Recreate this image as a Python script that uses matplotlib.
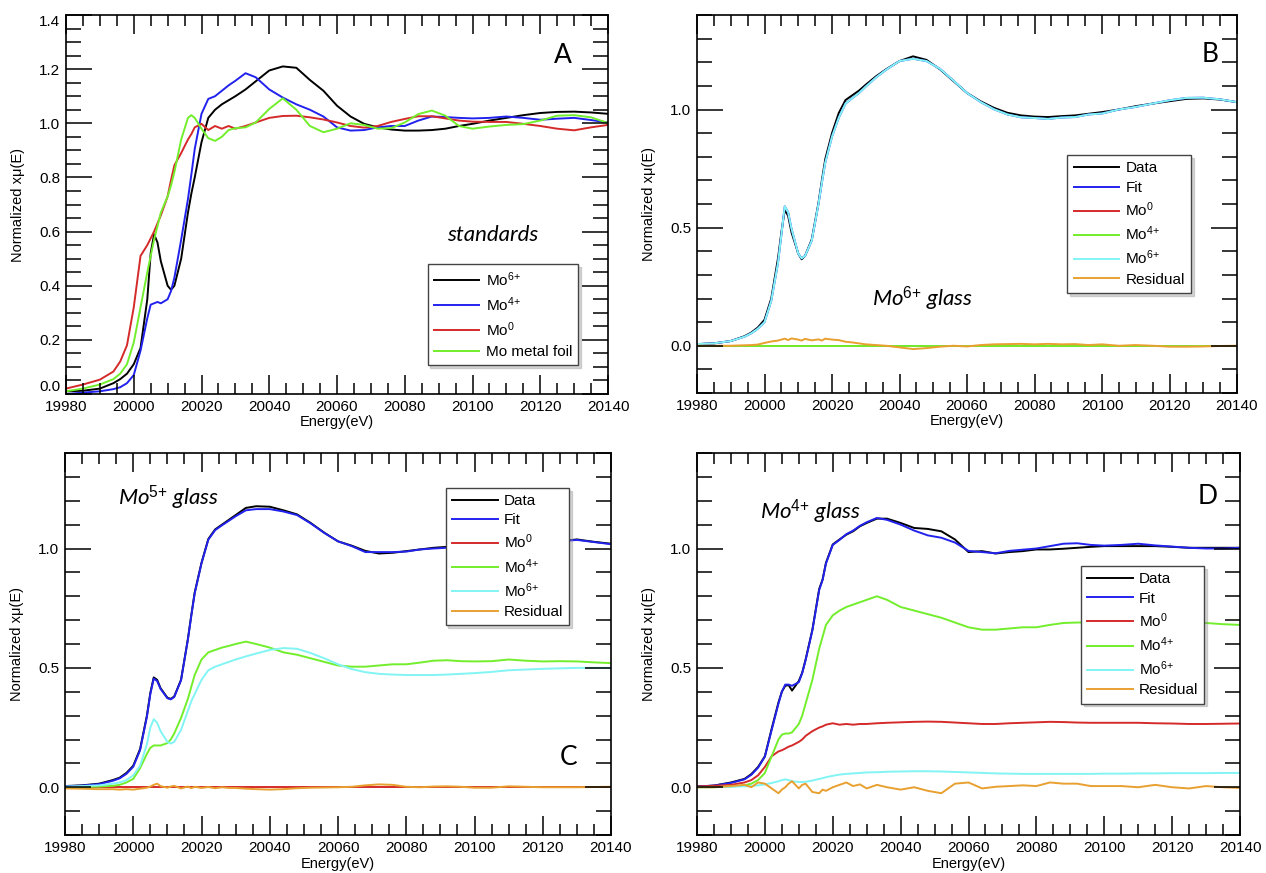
import matplotlib
matplotlib.use('Agg')
import matplotlib.pyplot as plt
from matplotlib.ticker import MultipleLocator, FormatStrFormatter

plt.rcParams['font.family'] = ['Liberation Sans', 'DejaVu Sans']
plt.rcParams['mathtext.fontset'] = 'custom'
plt.rcParams['mathtext.rm'] = 'Liberation Sans'
plt.rcParams['mathtext.it'] = 'Lato:italic'

# ---------------- data ----------------
E = [19980, 19985, 19990, 19994, 19996, 19998,
     20000, 20002, 20004, 20005, 20006, 20007, 20008,
     20010, 20011, 20012, 20014, 20016, 20017, 20018,
     20020, 20022, 20024, 20026, 20028, 20030, 20033, 20036,
     20040, 20044, 20048, 20052, 20056,
     20060, 20064, 20068, 20072, 20076,
     20080, 20084, 20088, 20092, 20096,
     20100, 20105, 20110, 20115, 20120, 20125, 20130, 20135, 20140]

# Panel A: standards
A_mo6 = [0.010, 0.012, 0.020, 0.040, 0.055, 0.075,
         0.110, 0.170, 0.350, 0.520, 0.590, 0.560, 0.490,
         0.400, 0.385, 0.400, 0.500, 0.670, 0.740, 0.800,
         0.930, 1.020, 1.050, 1.070, 1.085, 1.100, 1.125, 1.155,
         1.195, 1.210, 1.205, 1.160, 1.120,
         1.065, 1.025, 0.998, 0.985, 0.977,
         0.973, 0.973, 0.975, 0.980, 0.990,
         0.998, 1.010, 1.020, 1.030, 1.038, 1.042, 1.043, 1.040, 1.035]
A_mo4 = [0.000, 0.005, 0.010, 0.018, 0.025, 0.040,
         0.070, 0.160, 0.280, 0.330, 0.335, 0.340, 0.335,
         0.350, 0.380, 0.430, 0.570, 0.720, 0.810, 0.905,
         1.035, 1.090, 1.100, 1.120, 1.140, 1.157, 1.185, 1.170,
         1.125, 1.095, 1.070, 1.050, 1.025,
         0.985, 0.973, 0.975, 0.985, 0.990,
         0.990, 1.010, 1.025, 1.023, 1.020,
         1.018, 1.020, 1.025, 1.020, 1.013, 1.017, 1.020, 1.012, 1.003]
A_mo0 = [0.020, 0.035, 0.053, 0.083, 0.120, 0.180,
         0.320, 0.510, 0.550, 0.575, 0.600, 0.630, 0.660,
         0.730, 0.790, 0.845, 0.890, 0.940, 0.960, 0.985,
         0.998, 0.975, 0.990, 0.980, 0.990, 0.980, 0.990, 1.003,
         1.020, 1.027, 1.028, 1.022, 1.014,
         1.003, 0.990, 0.984, 0.990, 1.005,
         1.016, 1.026, 1.026, 1.018, 1.010,
         1.006, 1.005, 1.005, 0.998, 0.990, 0.980, 0.974, 0.985, 0.994]
A_foil = [0.010, 0.020, 0.035, 0.055, 0.075, 0.110,
          0.190, 0.320, 0.450, 0.510, 0.570, 0.620, 0.670,
          0.730, 0.770, 0.820, 0.940, 1.020, 1.030, 1.020,
          0.980, 0.945, 0.935, 0.950, 0.975, 0.982, 0.985, 1.003,
          1.053, 1.092, 1.050, 0.990, 0.967,
          0.980, 1.000, 0.994, 0.980, 0.982,
          1.003, 1.034, 1.047, 1.028, 0.990,
          0.980, 0.988, 0.994, 0.997, 1.010, 1.028, 1.030, 1.022, 1.001]

# Panel B: Mo6+ glass
B_data = [0.007, 0.010, 0.020, 0.040, 0.055, 0.077,
          0.110, 0.200, 0.370, 0.480, 0.575, 0.550, 0.480,
          0.390, 0.366, 0.380, 0.450, 0.605, 0.700, 0.790,
          0.900, 0.985, 1.040, 1.060, 1.080, 1.105, 1.140, 1.170,
          1.205, 1.225, 1.210, 1.170, 1.120,
          1.070, 1.035, 1.007, 0.986, 0.975,
          0.970, 0.968, 0.972, 0.975, 0.982,
          0.989, 1.000, 1.014, 1.025, 1.035, 1.045, 1.047, 1.042, 1.031]
B_fit = [0.007, 0.010, 0.020, 0.038, 0.052, 0.072,
         0.100, 0.190, 0.350, 0.470, 0.590, 0.565, 0.495,
         0.390, 0.370, 0.380, 0.445, 0.600, 0.690, 0.775,
         0.885, 0.965, 1.025, 1.048, 1.070, 1.097, 1.135, 1.168,
         1.205, 1.215, 1.205, 1.172, 1.122,
         1.070, 1.032, 1.001, 0.979, 0.967,
         0.964, 0.960, 0.966, 0.968, 0.979,
         0.983, 1.000, 1.011, 1.025, 1.039, 1.049, 1.050, 1.043, 1.031]
B_mo0 = [0.0] * len(E)
B_mo4 = [0.0] * len(E)
B_mo6 = [0.007, 0.010, 0.020, 0.038, 0.052, 0.072,
         0.100, 0.190, 0.350, 0.470, 0.590, 0.565, 0.495,
         0.390, 0.370, 0.380, 0.445, 0.600, 0.690, 0.775,
         0.885, 0.965, 1.025, 1.048, 1.070, 1.097, 1.135, 1.168,
         1.205, 1.215, 1.205, 1.172, 1.122,
         1.070, 1.032, 1.001, 0.979, 0.967,
         0.964, 0.960, 0.966, 0.968, 0.979,
         0.983, 1.000, 1.011, 1.025, 1.039, 1.049, 1.050, 1.043, 1.031]
B_res = [0.000, 0.000, 0.000, 0.002, 0.003, 0.005,
         0.012, 0.018, 0.022, 0.026, 0.030, 0.024, 0.031,
         0.026, 0.022, 0.029, 0.023, 0.027, 0.022, 0.030,
         0.026, 0.024, 0.017, 0.014, 0.010, 0.006, 0.003, 0.000,
         -0.007, -0.014, -0.010, -0.004, 0.000,
         -0.003, 0.003, 0.006, 0.007, 0.008,
         0.006, 0.008, 0.006, 0.007, 0.003,
         0.006, 0.000, 0.003, 0.000, -0.004, -0.004, -0.003, -0.001, 0.000]

# Panel C: Mo5+ glass
C_data = [0.005, 0.008, 0.015, 0.030, 0.040, 0.060,
          0.090, 0.160, 0.300, 0.395, 0.460, 0.450, 0.415,
          0.375, 0.370, 0.380, 0.450, 0.620, 0.720, 0.815,
          0.940, 1.040, 1.080, 1.100, 1.120, 1.140, 1.170, 1.177,
          1.175, 1.160, 1.143, 1.107, 1.066,
          1.030, 1.012, 0.990, 0.979, 0.982,
          0.989, 0.996, 1.003, 1.007, 1.010,
          1.013, 1.015, 1.021, 1.025, 1.030, 1.030, 1.038, 1.028, 1.020]
C_fit = [0.004, 0.007, 0.013, 0.027, 0.037, 0.056,
         0.086, 0.155, 0.295, 0.390, 0.455, 0.445, 0.412,
         0.373, 0.368, 0.378, 0.448, 0.617, 0.717, 0.812,
         0.938, 1.037, 1.077, 1.097, 1.116, 1.135, 1.160, 1.165,
         1.165, 1.155, 1.140, 1.105, 1.065,
         1.030, 1.010, 0.985, 0.985, 0.985,
         0.987, 0.996, 1.000, 1.003, 1.008,
         1.015, 1.017, 1.017, 1.023, 1.030, 1.030, 1.036, 1.027, 1.018]
C_mo0 = [0.0] * len(E)
C_mo4 = [0.000, 0.001, 0.003, 0.006, 0.010, 0.020,
         0.035, 0.080, 0.140, 0.165, 0.175, 0.175, 0.175,
         0.185, 0.200, 0.225, 0.290, 0.370, 0.420, 0.470,
         0.535, 0.565, 0.575, 0.585, 0.592, 0.600, 0.610, 0.600,
         0.585, 0.565, 0.555, 0.540, 0.525,
         0.510, 0.505, 0.505, 0.510, 0.515,
         0.515, 0.522, 0.530, 0.532, 0.528,
         0.527, 0.528, 0.535, 0.530, 0.527, 0.528, 0.527, 0.523, 0.520]
C_mo6 = [0.003, 0.005, 0.008, 0.015, 0.020, 0.030,
         0.050, 0.090, 0.180, 0.250, 0.285, 0.270, 0.235,
         0.190, 0.183, 0.190, 0.240, 0.320, 0.360, 0.390,
         0.450, 0.490, 0.505, 0.515, 0.525, 0.535, 0.548, 0.560,
         0.575, 0.583, 0.580, 0.562, 0.540,
         0.515, 0.495, 0.482, 0.475, 0.472,
         0.470, 0.470, 0.470, 0.472, 0.475,
         0.478, 0.483, 0.490, 0.493, 0.496, 0.498, 0.500, 0.500, 0.500]
C_res = [-0.005, -0.006, -0.008, -0.008, -0.010, -0.008,
         -0.010, -0.006, -0.002, 0.003, 0.010, 0.015, 0.005,
         -0.002, 0.003, 0.006, -0.005, 0.003, -0.004, 0.002,
         -0.003, 0.001, -0.004, 0.000, -0.003, -0.003, -0.006, -0.008,
         -0.010, -0.008, -0.004, -0.002, -0.001,
         0.000, 0.002, 0.008, 0.012, 0.010,
         0.002, 0.000, 0.003, 0.004, 0.002,
         -0.002, -0.002, 0.004, 0.002, 0.000, 0.000, 0.000, 0.001, 0.002]

# Panel D: Mo4+ glass
D_data = [0.003, 0.007, 0.020, 0.035, 0.055, 0.085,
          0.130, 0.245, 0.355, 0.400, 0.425, 0.428, 0.405,
          0.445, 0.480, 0.535, 0.660, 0.830, 0.870, 0.940,
          1.017, 1.038, 1.058, 1.072, 1.093, 1.107, 1.125, 1.125,
          1.107, 1.086, 1.082, 1.072, 1.038,
          0.985, 0.989, 0.979, 0.985, 0.989,
          0.996, 0.996, 0.999, 1.003, 1.007,
          1.010, 1.010, 1.010, 1.010, 1.007, 1.003, 1.003, 1.003, 1.003]
D_fit = [0.003, 0.007, 0.018, 0.033, 0.052, 0.082,
         0.128, 0.240, 0.350, 0.400, 0.430, 0.430, 0.425,
         0.440, 0.478, 0.532, 0.657, 0.826, 0.868, 0.937,
         1.015, 1.036, 1.060, 1.075, 1.095, 1.110, 1.128, 1.120,
         1.100, 1.075, 1.055, 1.045, 1.025,
         0.990, 0.985, 0.980, 0.990, 0.995,
         1.000, 1.010, 1.020, 1.022, 1.015,
         1.012, 1.015, 1.020, 1.013, 1.008, 1.003, 1.000, 1.000, 1.003]
D_mo0 = [0.003, 0.006, 0.010, 0.020, 0.030, 0.050,
         0.085, 0.130, 0.150, 0.155, 0.162, 0.170, 0.175,
         0.190, 0.200, 0.215, 0.235, 0.250, 0.255, 0.262,
         0.268, 0.262, 0.265, 0.262, 0.265, 0.265, 0.268, 0.270,
         0.272, 0.274, 0.275, 0.274, 0.271,
         0.268, 0.265, 0.265, 0.268, 0.270,
         0.272, 0.274, 0.273, 0.271, 0.270,
         0.270, 0.270, 0.270, 0.268, 0.267, 0.265, 0.265, 0.266, 0.267]
D_mo4 = [0.000, 0.000, 0.003, 0.008, 0.015, 0.030,
         0.060, 0.130, 0.200, 0.220, 0.225, 0.225, 0.230,
         0.265, 0.300, 0.350, 0.450, 0.580, 0.630, 0.680,
         0.720, 0.740, 0.755, 0.765, 0.775, 0.785, 0.800, 0.785,
         0.755, 0.740, 0.725, 0.710, 0.690,
         0.670, 0.660, 0.660, 0.665, 0.670,
         0.670, 0.680, 0.688, 0.690, 0.690,
         0.690, 0.690, 0.695, 0.690, 0.685, 0.688, 0.688, 0.683, 0.680]
D_mo6 = [0.000, 0.001, 0.002, 0.004, 0.005, 0.008,
         0.012, 0.018, 0.025, 0.030, 0.033, 0.030, 0.025,
         0.022, 0.022, 0.023, 0.028, 0.035, 0.038, 0.042,
         0.048, 0.053, 0.056, 0.058, 0.060, 0.062, 0.063, 0.065,
         0.066, 0.067, 0.067, 0.066, 0.064,
         0.062, 0.060, 0.058, 0.057, 0.056,
         0.056, 0.056, 0.056, 0.056, 0.056,
         0.057, 0.057, 0.058, 0.058, 0.059, 0.059, 0.059, 0.060, 0.060]
D_res = [0.000, 0.000, 0.005, 0.010, 0.000, 0.020,
         0.015, -0.005, -0.025, -0.010, 0.000, 0.015, 0.025,
         -0.005, 0.010, 0.015, -0.020, -0.025, -0.010, -0.015,
         0.000, 0.010, 0.020, 0.005, 0.012, -0.005, 0.010, 0.000,
         -0.010, 0.000, -0.015, -0.025, 0.015,
         0.020, -0.005, 0.002, 0.005, 0.008,
         0.005, 0.020, 0.015, 0.015, 0.005,
         0.005, 0.005, 0.000, 0.010, 0.000, -0.005, 0.005, 0.000, -0.003]

# ---------------- style ----------------
C_BLACK = '#000000'
C_BLUE = '#2222ee'
C_RED = '#d42a2a'
C_GREEN = '#72ee2c'
C_CYAN = '#82f4f4'
C_ORANGE = '#e8a030'
LW = 1.4

fig = plt.figure(figsize=(12.66, 8.73), dpi=100)
W, H = 1266.0, 873.0


def make_axes(l, t, r, b):
    return fig.add_axes([l / W, 1 - b / H, (r - l) / W, (b - t) / H])


def style(ax, ymin, ymax, ymajor, yminor):
    ax.set_xlim(19980, 20140)
    ax.set_ylim(ymin, ymax)
    ax.xaxis.set_major_locator(MultipleLocator(20))
    ax.xaxis.set_minor_locator(MultipleLocator(5))
    ax.yaxis.set_major_locator(MultipleLocator(ymajor))
    ax.yaxis.set_minor_locator(MultipleLocator(yminor))
    ax.yaxis.set_major_formatter(FormatStrFormatter('%.1f'))
    ax.tick_params(which='both', direction='in', top=True, right=True,
                   width=1.1, labelsize=11, colors='black')
    ax.tick_params(axis='y', which='major', length=19, pad=4)
    ax.tick_params(axis='y', which='minor', length=10.5)
    ax.tick_params(axis='x', which='major', length=13.5, pad=4)
    ax.tick_params(axis='x', which='minor', length=8)
    for s in ax.spines.values():
        s.set_linewidth(1.2)
    ax.set_axisbelow(False)
    ax.set_xlabel('Energy(eV)', fontsize=10.5, va='center')
    ax.set_ylabel('Normalized xμ(E)', fontsize=10.5, va='center')
    ax.xaxis.set_label_coords(0.5, -0.075)
    ax.yaxis.set_label_coords(-0.088, 0.5)


def legend(ax, x, y, spacing):
    lg = ax.legend(loc='upper left', bbox_to_anchor=(x, y), borderaxespad=0,
                   fontsize=11, handlelength=3.0, handletextpad=0.4,
                   labelspacing=spacing, borderpad=0.4, fancybox=False,
                   framealpha=1, shadow={'color': '0.55', 'alpha': 0.35})
    lg.get_frame().set_edgecolor('#444444')
    lg.get_frame().set_linewidth(1.0)
    return lg


lab_mo6 = r'Mo$^{\mathrm{6{+}}}$'
lab_mo4 = r'Mo$^{\mathrm{4{+}}}$'
lab_mo0 = r'Mo$^{\mathrm{0}}$'

# ---- Panel A ----
axA = make_axes(66, 15, 608, 394)
axA.plot(E, A_mo6, color=C_BLACK, lw=LW, label=lab_mo6)
axA.plot(E, A_mo4, color=C_BLUE, lw=LW, label=lab_mo4)
axA.plot(E, A_mo0, color=C_RED, lw=LW, label=lab_mo0)
axA.plot(E, A_foil, color=C_GREEN, lw=LW, label='Mo metal foil')
style(axA, 0.0, 1.4, 0.2, 0.05)
legend(axA, 0.667, 0.343, 0.42)
axA.text(20126.7, 1.25, 'A', fontsize=19, family='Lato', ha='center', va='center')
axA.text(20106, 0.587, 'standards', fontsize=16, family='Lato', style='italic',
         ha='center', va='center')


def panel(ax, data, fit, m0, m4, m6, res):
    ax.plot(E, data, color=C_BLACK, lw=LW, label='Data')
    ax.plot(E, fit, color=C_BLUE, lw=LW, label='Fit')
    ax.plot(E, m0, color=C_RED, lw=LW, label=lab_mo0)
    ax.plot(E, m4, color=C_GREEN, lw=LW, label=lab_mo4)
    ax.plot(E, m6, color=C_CYAN, lw=LW, label=lab_mo6)
    ax.plot(E, res, color=C_ORANGE, lw=LW, label='Residual')
    style(ax, -0.2, 1.4, 0.5, 0.1)


axB = make_axes(697, 15, 1237, 393)
panel(axB, B_data, B_fit, B_mo0, B_mo4, B_mo6, B_res)
legend(axB, 0.686, 0.629, 0.36)
axB.text(20132, 1.232, 'B', fontsize=19, family='Lato', ha='center', va='center')
axB.text(20046.8, 0.197, r'Mo$^{\mathit{6{+}}}$ glass', fontsize=16, family='Lato',
         style='italic', ha='center', va='center')

axC = make_axes(65, 453, 611, 835)
panel(axC, C_data, C_fit, C_mo0, C_mo4, C_mo6, C_res)
legend(axC, 0.697, 0.909, 0.36)
axC.text(20127.5, 0.123, 'C', fontsize=19, family='Lato', ha='center', va='center')
axC.text(20010.2, 1.208, r'Mo$^{\mathit{5{+}}}$ glass', fontsize=16, family='Lato',
         style='italic', ha='center', va='center')

axD = make_axes(697, 453, 1240, 835)
panel(axD, D_data, D_fit, D_mo0, D_mo4, D_mo6, D_res)
legend(axD, 0.707, 0.704, 0.36)
axD.text(20130.4, 1.219, 'D', fontsize=19, family='Lato', ha='center', va='center')
axD.text(20013.4, 1.152, r'Mo$^{\mathit{4{+}}}$ glass', fontsize=16, family='Lato',
         style='italic', ha='center', va='center')

# shift first/last tick labels in panel A inside the axes (as in the reference)
fig.canvas.draw()
for t in axA.get_yticklabels():
    if t.get_text() == '0.0':
        t.set_va('bottom')
    elif t.get_text() == '1.4':
        t.set_va('top')

fig.savefig('out.png', dpi=100)
